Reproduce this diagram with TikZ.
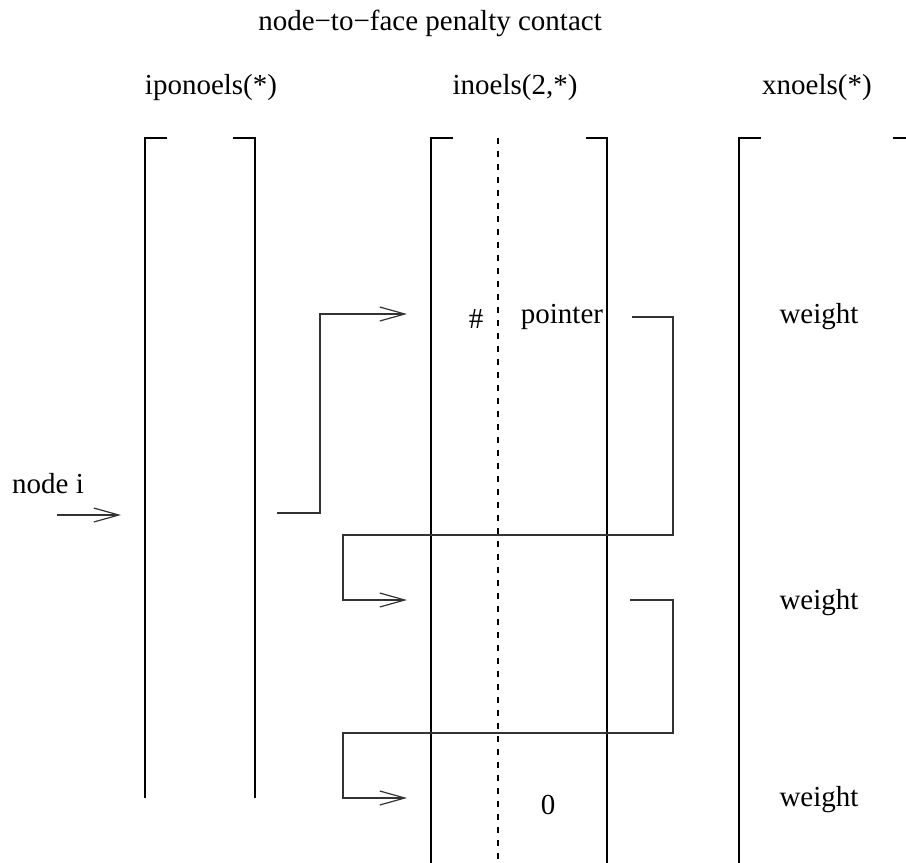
\documentclass[tikz,border=0pt]{standalone}
\usepackage{fontspec}
\setmainfont{Liberation Serif}
\usetikzlibrary{arrows.meta,positioning}
\tikzset{
  bracket/.style={line width=0.9pt},
  link/.style={line width=0.6pt, draw=black!80},
  ptr/.style={link, -{Straight Barb[length=12.5pt,width=7pt]}},
  lbl/.style={font=\fontsize{14.5}{17}\selectfont, inner sep=0pt},
}

\begin{document}
\begin{tikzpicture}[x=0.5pt,y=-0.5pt]
  \useasboundingbox (0,0) rectangle (906,863);

  % headings
  \node[lbl] (title) at (430,23) {node−to−face penalty contact};
  \node[lbl] (hipo) at (211,88) {iponoels(*)};
  \node[lbl] (hino) at (515,88) {inoels(2,*)};
  \node[lbl] (hxno) at (817,88) {xnoels(*)};

  % array brackets
  \draw[bracket] (167,138) -- (145,138) -- (145,798);
  \draw[bracket] (233,138) -- (255,138) -- (255,798);
  \draw[bracket] (453,138) -- (431,138) -- (431,863);
  \draw[bracket] (586,138) -- (607,138) -- (607,863);
  \draw[dash pattern=on 3pt off 3.5pt, line width=0.6pt] (498,138) -- (498,863);
  \draw[bracket] (761,138) -- (739,138) -- (739,863);
  \draw[bracket] (893,138) -- (906,138);

  % entries
  \node[lbl] (hash) at (476,319) {\#};
  \node[lbl] (pointer) at (562,317) {pointer};
  \node[lbl] (zero) at (548,805) {0};
  \node[lbl] (wgt1) at (819,317) {weight};
  \node[lbl] (wgt2) at (819,603) {weight};
  \node[lbl] (wgt3) at (819,800) {weight};
  \node[lbl] (nodei) at (48,484) {node i};

  % connector ends
  \coordinate (nodeIn) at (57,515);
  \coordinate (ipoIn) at (121,515);
  \coordinate (ipoOut) at (277,513);
  \coordinate (ino1) at (407,314);
  \coordinate (ino2) at (407,600);
  \coordinate (ino3) at (407,798);
  \coordinate (ptrOut1) at (632,317);
  \coordinate (ptrOut2) at (630,600);
  \coordinate (turnA) at (673,535);
  \coordinate (turnB) at (343,535);
  \coordinate (turnC) at (673,733);
  \coordinate (turnD) at (343,733);

  \draw[ptr] (nodeIn) -- (ipoIn);
  \draw[ptr] (ipoOut) -- ++(43,0) |- (ino1);
  \draw[ptr] (ptrOut1) -| (turnA) -- (turnB) |- (ino2);
  \draw[ptr] (ptrOut2) -| (turnC) -- (turnD) |- (ino3);
\end{tikzpicture}
\end{document}
